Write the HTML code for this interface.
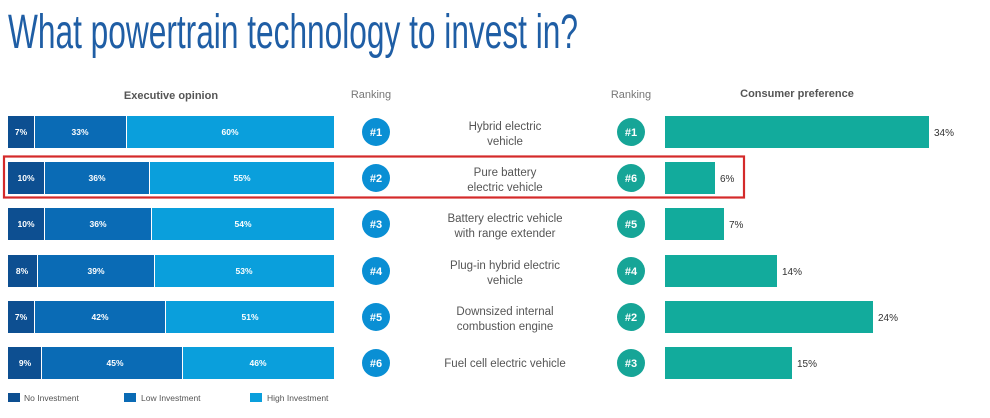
<!DOCTYPE html>
<html><head><meta charset="utf-8"><style>
html,body{margin:0;padding:0;background:#fff;}
svg{display:block;font-family:"Liberation Sans",Arial,sans-serif;}
</style></head><body>
<svg width="990" height="418" viewBox="0 0 990 418" xmlns="http://www.w3.org/2000/svg">
<text x="8" y="48" font-size="48" fill="#1f5ea5" textLength="570" lengthAdjust="spacingAndGlyphs">What powertrain technology to invest in?</text>
<text x="171" y="99" font-size="11" font-weight="bold" fill="#555" text-anchor="middle">Executive opinion</text>
<text x="371" y="98" font-size="11" fill="#777" text-anchor="middle">Ranking</text>
<text x="631" y="98" font-size="11" fill="#777" text-anchor="middle">Ranking</text>
<text x="797" y="97" font-size="11" font-weight="bold" fill="#555" text-anchor="middle">Consumer preference</text>
<g font-size="8.5" font-weight="bold" fill="#fff" text-anchor="middle">
<rect x="8" y="116" width="26" height="32" fill="#0d4f91"/><rect x="35" y="116" width="91" height="32" fill="#0a6bb5"/><rect x="127" y="116" width="207" height="32" fill="#0a9fdc"/>
<text x="21" y="135">7%</text><text x="80" y="135">33%</text><text x="230" y="135">60%</text>
<rect x="8" y="162" width="36" height="32" fill="#0d4f91"/><rect x="45" y="162" width="104" height="32" fill="#0a6bb5"/><rect x="150" y="162" width="184" height="32" fill="#0a9fdc"/>
<text x="26" y="181">10%</text><text x="97" y="181">36%</text><text x="242" y="181">55%</text>
<rect x="8" y="208" width="36" height="32" fill="#0d4f91"/><rect x="45" y="208" width="106" height="32" fill="#0a6bb5"/><rect x="152" y="208" width="182" height="32" fill="#0a9fdc"/>
<text x="26" y="227">10%</text><text x="98" y="227">36%</text><text x="243" y="227">54%</text>
<rect x="8" y="255" width="29" height="32" fill="#0d4f91"/><rect x="38" y="255" width="116" height="32" fill="#0a6bb5"/><rect x="155" y="255" width="179" height="32" fill="#0a9fdc"/>
<text x="22" y="274">8%</text><text x="96" y="274">39%</text><text x="244" y="274">53%</text>
<rect x="8" y="301" width="26" height="32" fill="#0d4f91"/><rect x="35" y="301" width="130" height="32" fill="#0a6bb5"/><rect x="166" y="301" width="168" height="32" fill="#0a9fdc"/>
<text x="21" y="320">7%</text><text x="100" y="320">42%</text><text x="250" y="320">51%</text>
<rect x="8" y="347" width="33" height="32" fill="#0d4f91"/><rect x="42" y="347" width="140" height="32" fill="#0a6bb5"/><rect x="183" y="347" width="151" height="32" fill="#0a9fdc"/>
<text x="25" y="366">9%</text><text x="115" y="366">45%</text><text x="258" y="366">46%</text>
</g>
<g font-size="11" font-weight="bold" fill="#fff" text-anchor="middle">
<circle cx="376" cy="132" r="14" fill="#0a8fd4"/><text x="376" y="136">#1</text>
<circle cx="376" cy="178" r="14" fill="#0a8fd4"/><text x="376" y="182">#2</text>
<circle cx="376" cy="224" r="14" fill="#0a8fd4"/><text x="376" y="228">#3</text>
<circle cx="376" cy="271" r="14" fill="#0a8fd4"/><text x="376" y="275">#4</text>
<circle cx="376" cy="317" r="14" fill="#0a8fd4"/><text x="376" y="321">#5</text>
<circle cx="376" cy="363" r="14" fill="#0a8fd4"/><text x="376" y="367">#6</text>
<circle cx="631" cy="132" r="14" fill="#16a597"/><text x="631" y="136">#1</text>
<circle cx="631" cy="178" r="14" fill="#16a597"/><text x="631" y="182">#6</text>
<circle cx="631" cy="224" r="14" fill="#16a597"/><text x="631" y="228">#5</text>
<circle cx="631" cy="271" r="14" fill="#16a597"/><text x="631" y="275">#4</text>
<circle cx="631" cy="317" r="14" fill="#16a597"/><text x="631" y="321">#2</text>
<circle cx="631" cy="363" r="14" fill="#16a597"/><text x="631" y="367">#3</text>
</g>
<g font-size="11.5" fill="#555" text-anchor="middle">
<text x="505" y="130">Hybrid electric</text><text x="505" y="145">vehicle</text>
<text x="505" y="176">Pure battery</text><text x="505" y="191">electric vehicle</text>
<text x="505" y="222">Battery electric vehicle</text><text x="505" y="237">with range extender</text>
<text x="505" y="269">Plug-in hybrid electric</text><text x="505" y="284">vehicle</text>
<text x="505" y="315">Downsized internal</text><text x="505" y="330">combustion engine</text>
<text x="505" y="367">Fuel cell electric vehicle</text>
</g>
<g fill="#12ab9c">
<rect x="665" y="116" width="264" height="32"/>
<rect x="665" y="162" width="50" height="32"/>
<rect x="665" y="208" width="59" height="32"/>
<rect x="665" y="255" width="112" height="32"/>
<rect x="665" y="301" width="208" height="32"/>
<rect x="665" y="347" width="127" height="32"/>
</g>
<g font-size="10" fill="#333">
<text x="934" y="136">34%</text>
<text x="720" y="182">6%</text>
<text x="729" y="228">7%</text>
<text x="782" y="275">14%</text>
<text x="878" y="321">24%</text>
<text x="797" y="367">15%</text>
</g>
<rect x="4" y="156.5" width="740" height="41" fill="none" stroke="#d42a2a" stroke-width="2.2"/>
<rect x="8" y="393" width="12" height="9" fill="#0d4f91"/>
<rect x="124" y="393" width="12" height="9" fill="#0a6bb5"/>
<rect x="250" y="393" width="12" height="9" fill="#0a9fdc"/>
<g font-size="8.5" fill="#555">
<text x="24" y="401">No Investment</text>
<text x="141" y="401">Low Investment</text>
<text x="267" y="401">High Investment</text>
</g>
</svg>
</body></html>
